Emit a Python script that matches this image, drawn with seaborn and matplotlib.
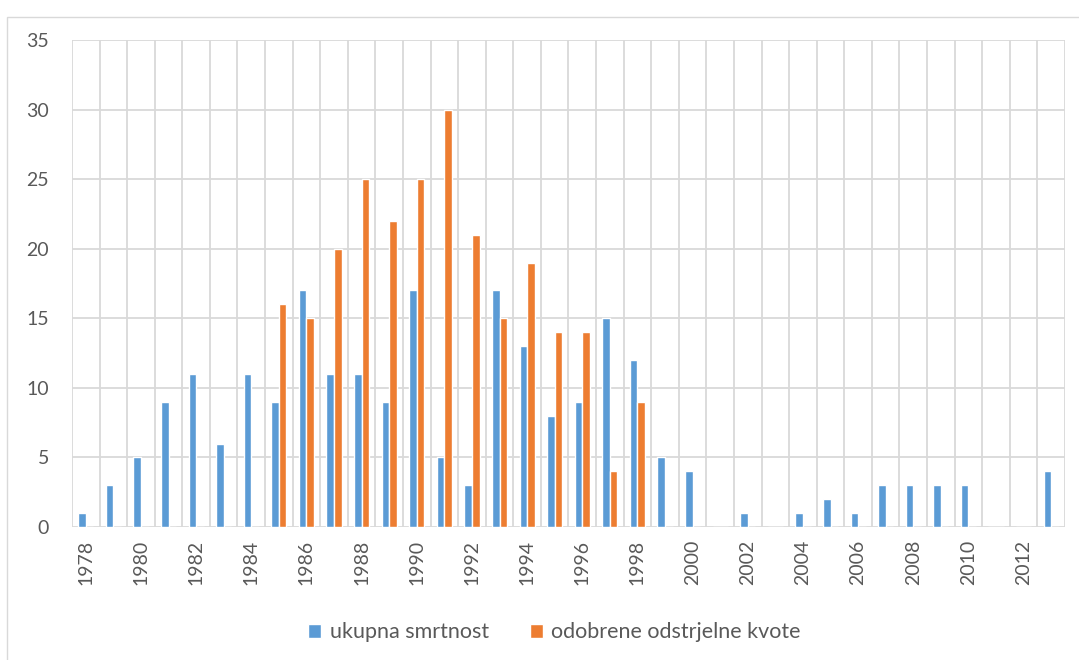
import pandas as pd
import seaborn as sns
import numpy as np
from matplotlib import pyplot as plt
from matplotlib.patches import Rectangle

godine = [str(g) for g in range(1978, 2014)]
ukupna_smrtnost = [1, 3, 5, 9, 11, 6, 11, 9, 17, 11, 11, 9, 17, 5, 3, 17, 13, 8, 9, 15, 12, 5, 4, 0, 1, 0, 1, 2, 1, 3, 3, 3, 3, 0, 0, 4]
odstrjelne_kvote = [0, 0, 0, 0, 0, 0, 0, 16, 15, 20, 25, 22, 25, 30, 21, 15, 19, 14, 14, 4, 9, 0, 0, 0, 0, 0, 0, 0, 0, 0, 0, 0, 0, 0, 0, 0]
serije = ["ukupna smrtnost", "odobrene odstrjelne kvote"]

df = pd.DataFrame({
    "godina": godine * 2,
    "vrijednost": ukupna_smrtnost + odstrjelne_kvote,
    "serija": [serije[0]] * len(godine) + [serije[1]] * len(godine),
})

sns.set_style("white")
plt.rcParams["font.family"] = ["Lato", "DejaVu Sans"]

fig = plt.figure(figsize=(10.79, 6.6), dpi=100)
ax = fig.add_axes([0.0667, 0.2015, 0.9203, 0.7379])

sns.barplot(
    df,
    x="godina",
    y="vrijednost",
    hue="serija",
    palette=["#5B9BD5", "#ED7D31"],
    width=0.55,
    saturation=1,
    ax=ax,
)

ax.set_ylim(0, 35)
ax.set_xlim(-0.5, len(godine) - 0.5)
ax.set_yticks(np.arange(0, 36, 5))
ax.set_xticks(range(len(godine)))
ax.set_xticklabels([g if i % 2 == 0 else "" for i, g in enumerate(godine)], rotation=90)
ax.set_xticks(np.arange(-0.5, len(godine), 1), minor=True)
ax.grid(axis="y", color="#d9d9d9", linewidth=1.3)
ax.grid(axis="x", which="minor", color="#d9d9d9", linewidth=1.3)
ax.set_axisbelow(True)
for s in ax.spines.values():
    s.set_visible(False)
ax.tick_params(axis="both", length=0, labelsize=14, labelcolor="#595959", pad=9)
ax.tick_params(axis="y", pad=16.5)
ax.set_xlabel("")
ax.set_ylabel("")

ax.legend(
    loc="center",
    bbox_to_anchor=(0.514, 0.042),
    bbox_transform=fig.transFigure,
    ncol=2,
    frameon=False,
    fontsize=15.5,
    handlelength=0.6,
    handleheight=0.6,
    columnspacing=1.9,
    handletextpad=0.4,
    labelcolor="#595959",
)

fig.patches.append(Rectangle((7 / 1079, -0.01), 1.1, 0.995 - 0.01, transform=fig.transFigure,
                             fill=False, edgecolor="#d9d9d9", linewidth=1))

fig.savefig("out.png", dpi=100, facecolor="white")
